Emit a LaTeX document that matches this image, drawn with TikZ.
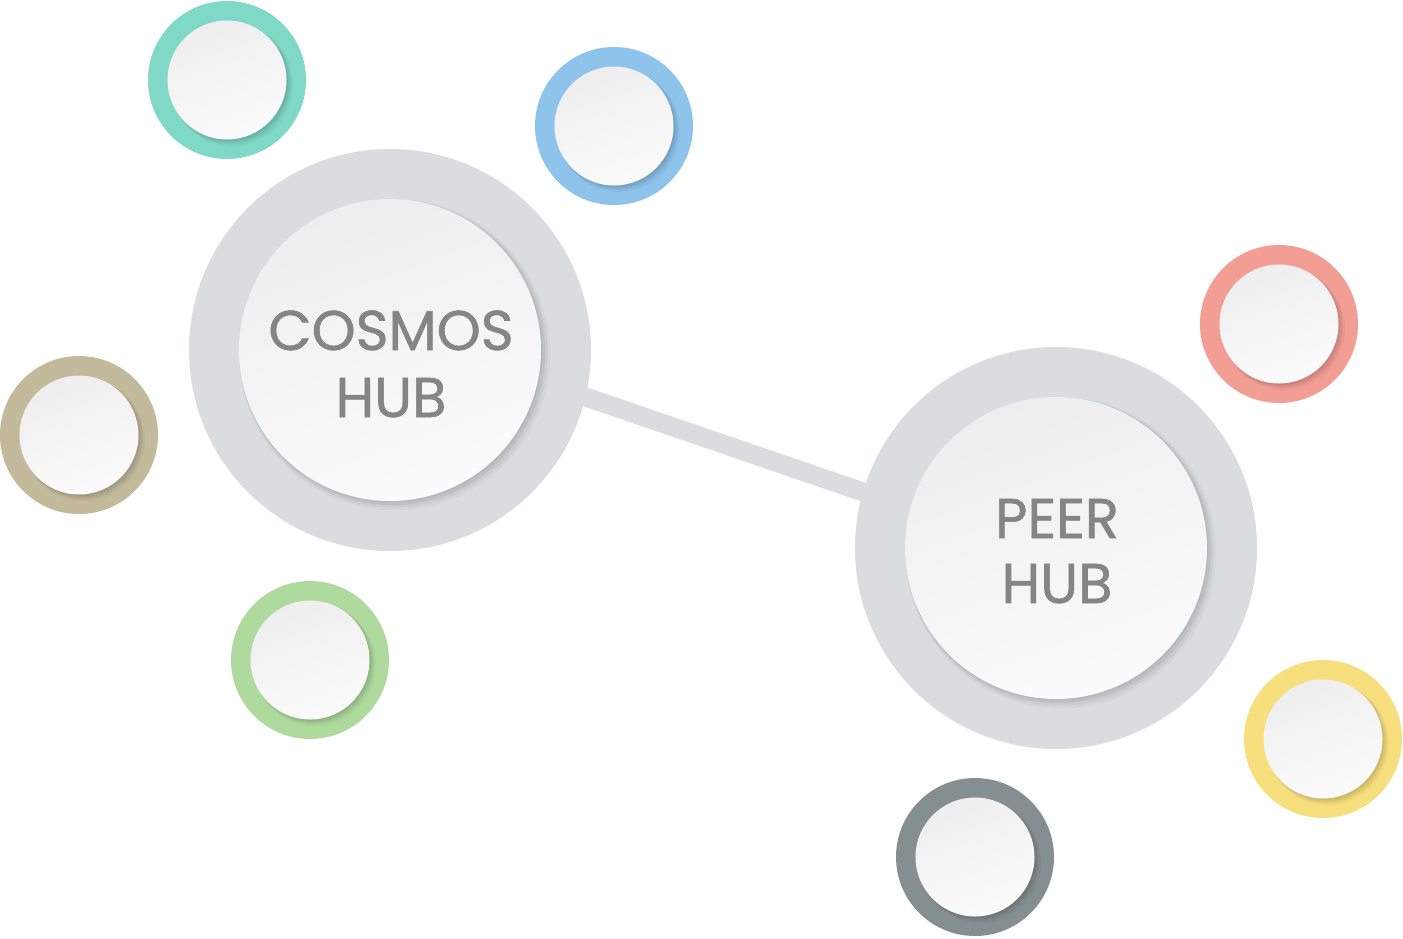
\documentclass[tikz,border=0pt]{standalone}
\usepackage{fontspec}
\setmainfont{Poppins}
\newfontfamily\hubfont[FakeBold=1]{Poppins}
\usetikzlibrary{shadows,calc}
\definecolor{hubring}{HTML}{DADDE0}
\definecolor{cteal}{HTML}{80D8C7}
\definecolor{cblue}{HTML}{8EC3EC}
\definecolor{ctan}{HTML}{C2BA9B}
\definecolor{cgreen}{HTML}{AFDA9E}
\definecolor{cred}{HTML}{F29E95}
\definecolor{cyellow}{HTML}{F7DF7E}
\definecolor{cdark}{HTML}{858F91}
\definecolor{disctop}{HTML}{EEEEEF}
\definecolor{discbot}{HTML}{FBFBFB}
\definecolor{txt}{HTML}{858585}
\tikzset{
  ringnode/.style={circle, fill=#1, draw=none, inner sep=0pt},
  smallring/.style={ringnode=#1, minimum size=158pt},
  bigring/.style={ringnode=hubring, minimum size=402pt},
  disc/.style={circle, draw=none, inner sep=0pt, shading=axis,
    top color=disctop, bottom color=discbot, shading angle=20,
    drop shadow={shadow xshift=1.5pt, shadow yshift=-1.5pt, opacity=0.05, fill=black},
    drop shadow={shadow xshift=2.5pt, shadow yshift=-2.5pt, opacity=0.05, fill=black, shadow scale=1.01},
    drop shadow={shadow xshift=3.5pt, shadow yshift=-3.5pt, opacity=0.04, fill=black, shadow scale=1.02},
    drop shadow={shadow xshift=4.5pt, shadow yshift=-4.5pt, opacity=0.03, fill=black, shadow scale=1.03}},
  smalldisc/.style={disc, minimum size=119pt},
  bigdisc/.style={disc, minimum size=302pt},
  hubtext/.style={text=txt, font=\hubfont\fontsize{56}{60}\selectfont, anchor=base, inner sep=0pt},
  link/.style={draw=hubring, line width=19pt}
}
\begin{document}
\begin{tikzpicture}[x=1pt,y=-1pt]
\useasboundingbox (0,0) rectangle (1403,938);
% connector
\coordinate (la) at (390,330);
\coordinate (lb) at (1056,558);
\draw[link] (la) -- (lb);
% hubs
\node[bigring] (cosmosring) at (390,350) {};
\node[bigdisc] (cosmos) at (390,350) {};
\node[bigring] (peerring) at (1056,548) {};
\node[bigdisc] (peer) at (1056,548) {};
\node[hubtext] (c1) at (391,350) {COSMOS};
\node[hubtext] (c2) at (391,417) {HUB};
\node[hubtext] (p1) at (1057,538) {PEER};
\node[hubtext] (p2) at (1057,603) {HUB};
% small satellites
\foreach \n/\x/\y/\c in {teal/227/80/cteal, blue/614/126/cblue, tan/79/435/ctan,
  green/310/660/cgreen, red/1279/324/cred, yellow/1323/739/cyellow, dark/975/857/cdark}{
  \node[smallring=\c] (\n ring) at (\x,\y) {};
  \node[smalldisc] (\n) at (\x,\y) {};
}
\end{tikzpicture}
\end{document}
